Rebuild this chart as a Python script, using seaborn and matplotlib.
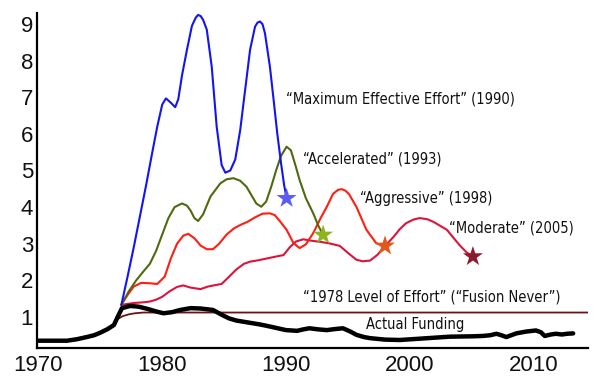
import numpy as np
import pandas as pd
import seaborn as sns
import matplotlib.pyplot as plt

# ---- data (year, relative funding) ----
mee_years = [1976.7, 1977.2, 1977.7, 1978.2, 1978.7, 1979.2, 1979.6, 1980.0, 1980.3, 1980.7,
             1981.05, 1981.3, 1981.6, 1982.0, 1982.4, 1982.7, 1982.9, 1983.1, 1983.3, 1983.6,
             1984.0, 1984.4, 1984.8, 1985.1, 1985.5, 1985.9, 1986.3, 1986.6, 1987.1, 1987.5,
             1987.7, 1987.9, 1988.1, 1988.3, 1988.7, 1989.0, 1989.3, 1989.6, 1989.85, 1990.05]
mee_values = [1.33, 2.1, 2.9, 3.75, 4.6, 5.5, 6.2, 6.8, 6.97, 6.85,
              6.73, 6.95, 7.6, 8.3, 8.95, 9.17, 9.25, 9.22, 9.12, 8.85,
              7.84, 6.2, 5.15, 4.94, 5.0, 5.3, 6.1, 6.93, 8.3, 8.93,
              9.04, 9.07, 9.0, 8.75, 7.84, 6.93, 6.0, 5.2, 4.6, 4.24]

acc_years = [1976.7, 1977.3, 1977.9, 1978.5, 1979.0, 1979.5, 1980.0, 1980.5, 1981.0, 1981.6,
             1982.0, 1982.3, 1982.6, 1982.9, 1983.3, 1983.9, 1984.7, 1985.2, 1985.75, 1986.3,
             1986.8, 1987.6, 1988.0, 1988.4, 1988.8, 1989.2, 1989.6, 1990.05, 1990.4, 1990.8,
             1991.1, 1991.6, 1992.2, 1992.6, 1993.0]
acc_values = [1.33, 1.7, 2.0, 2.25, 2.45, 2.8, 3.25, 3.7, 4.0, 4.1,
              4.04, 3.9, 3.7, 3.62, 3.8, 4.29, 4.65, 4.76, 4.79, 4.72,
              4.56, 4.1, 4.01, 4.15, 4.55, 5.0, 5.4, 5.65, 5.55, 5.1,
              4.74, 4.25, 3.83, 3.5, 3.24]

agg_years = [1976.7, 1977.2, 1977.7, 1978.3, 1979.0, 1979.6, 1980.2, 1980.7, 1981.2, 1981.7,
             1982.1, 1982.6, 1983.1, 1983.6, 1984.1, 1984.6, 1985.2, 1985.8, 1986.3, 1986.9,
             1987.5, 1988.1, 1988.7, 1989.1, 1989.5, 1990.05, 1990.6, 1991.1, 1991.6, 1992.2,
             1992.8, 1993.3, 1993.8, 1994.2, 1994.5, 1994.8, 1995.1, 1995.7, 1996.5, 1997.3,
             1998.0]
agg_values = [1.33, 1.6, 1.83, 1.93, 1.92, 1.9, 2.1, 2.6, 3.0, 3.22,
              3.27, 3.15, 2.95, 2.85, 2.85, 3.0, 3.25, 3.42, 3.51, 3.6,
              3.72, 3.82, 3.83, 3.78, 3.62, 3.38, 3.02, 2.88, 2.98, 3.29,
              3.7, 4.01, 4.36, 4.47, 4.49, 4.45, 4.35, 4.0, 3.38, 3.01,
              2.94]

mod_years = [1976.7, 1977.7, 1978.5, 1979.0, 1979.5, 1980.0, 1980.6, 1981.2, 1981.7, 1982.3,
             1983.1, 1983.7, 1984.3, 1984.8, 1985.4, 1986.0, 1986.6, 1987.1, 1987.8, 1988.5,
             1989.2, 1989.8, 1990.3, 1990.8, 1991.4, 1992.1, 1992.8, 1993.5, 1994.35, 1995.0,
             1995.7, 1996.2, 1996.8, 1997.4, 1998.0, 1998.7, 1999.2, 1999.7, 2000.3, 2000.8,
             2001.4, 2001.9, 2003.0, 2004.0, 2004.6, 2005.1]
mod_values = [1.33, 1.38, 1.4, 1.42, 1.47, 1.55, 1.7, 1.82, 1.86, 1.8,
              1.76, 1.83, 1.87, 1.9, 2.1, 2.3, 2.45, 2.51, 2.55, 2.6,
              2.65, 2.69, 2.9, 3.06, 3.12, 3.08, 3.05, 3.01, 2.94, 2.75,
              2.56, 2.52, 2.54, 2.7, 2.94, 3.19, 3.4, 3.56, 3.66, 3.7,
              3.67, 3.6, 3.38, 2.97, 2.76, 2.65]

lvl_years = [1976.0, 1976.3, 1976.8, 1977.3, 1977.8, 1978.5, 2014.4]
lvl_values = [0.76, 0.92, 1.02, 1.07, 1.1, 1.12, 1.12]

act_years = [1969.9, 1972.3, 1973.1, 1973.9, 1974.5, 1975.0, 1975.6, 1976.1, 1976.4, 1976.75,
             1977.4, 1978.1, 1978.8, 1979.5, 1980.1, 1980.8, 1981.45, 1982.3, 1983.1, 1984.1,
             1984.8, 1985.4, 1986.0, 1986.9, 1987.8, 1988.4, 1989.2, 1990.0, 1990.9, 1991.4,
             1991.9, 1992.6, 1993.3, 1994.0, 1994.6, 1995.2, 1995.7, 1996.3, 1996.8, 1998.0,
             1999.2, 2001.0, 2003.2, 2005.0, 2005.9, 2006.5, 2007.0, 2007.4, 2007.8, 2008.2,
             2008.6, 2009.4, 2010.2, 2010.6, 2010.9, 2011.4, 2011.8, 2012.3, 2012.7, 2013.2]
act_values = [0.35, 0.35, 0.39, 0.45, 0.5, 0.57, 0.67, 0.78, 1.0, 1.24,
              1.3, 1.28, 1.22, 1.15, 1.1, 1.13, 1.19, 1.24, 1.23, 1.19,
              1.06, 0.96, 0.9, 0.85, 0.8, 0.76, 0.7, 0.64, 0.62, 0.66,
              0.69, 0.66, 0.64, 0.67, 0.69, 0.6, 0.51, 0.45, 0.42, 0.38,
              0.37, 0.41, 0.46, 0.47, 0.48, 0.5, 0.54, 0.5, 0.45, 0.5,
              0.55, 0.6, 0.63, 0.58, 0.48, 0.52, 0.54, 0.52, 0.54, 0.55]

star_years = [1990.05, 1993.0, 1998.0, 2005.1]
star_values = [4.24, 3.24, 2.94, 2.65]
star_names = ['mee', 'acc', 'agg', 'mod']

x_ticks = [1970, 1980, 1990, 2000, 2010]
y_ticks = [1, 2, 3, 4, 5, 6, 7, 8, 9]

sns.set_style('white')
plt.rcParams['font.family'] = ['Liberation Sans', 'DejaVu Sans']

fig, ax = plt.subplots(figsize=(6, 3.85), dpi=100)
fig.subplots_adjust(left=0.062, right=0.98, bottom=0.096, top=0.966)

sns.lineplot(x=lvl_years, y=lvl_values, color='#6b1214', linewidth=1.3, ax=ax)
sns.lineplot(x=mod_years, y=mod_values, color='#dc143c', linewidth=1.5, ax=ax)
sns.lineplot(x=agg_years, y=agg_values, color='#ff1e12', linewidth=1.5, ax=ax)
sns.lineplot(x=acc_years, y=acc_values, color='#4e6a10', linewidth=1.5, ax=ax)
sns.lineplot(x=mee_years, y=mee_values, color='#1414f0', linewidth=1.5, ax=ax)
sns.lineplot(x=act_years, y=act_values, color='black', linewidth=3.2, ax=ax)

stars = pd.DataFrame({'year': star_years, 'value': star_values, 'name': star_names})
sns.scatterplot(data=stars, x='year', y='value', hue='name',
                palette={'mee': '#5a5cf2', 'acc': '#8cb51e', 'agg': '#e0581c', 'mod': '#8b1a2e'},
                marker='*', s=230, linewidth=0, legend=False, zorder=5, ax=ax)

# annotations
tkw = dict(family='DejaVu Sans', fontstretch='condensed', fontsize=10.5,
           va='center', ha='left', color='#111111')
ax.text(1990.0, 6.96, '\u201cMaximum Effective Effort\u201d (1990)', **tkw)
ax.text(1991.35, 5.31, '\u201cAccelerated\u201d (1993)', **tkw)
ax.text(1996.0, 4.24, '\u201cAggressive\u201d (1998)', **tkw)
ax.text(2003.2, 3.44, '\u201cModerate\u201d (2005)', **tkw)
ax.text(1991.35, 1.55, '\u201c1978 Level of Effort\u201d (\u201cFusion Never\u201d)', **tkw)
ax.text(1996.45, 0.78, 'Actual Funding', **tkw)

ax.set_xlim(1969.9, 2014.4)
ax.set_ylim(0.15, 9.3)
ax.set_xticks(x_ticks)
ax.set_yticks(y_ticks)
ax.tick_params(axis='both', length=0, labelsize=16, colors='#111111')
ax.tick_params(axis='x', pad=5)
ax.tick_params(axis='y', pad=3)
ax.set_xlabel('')
ax.set_ylabel('')
sns.despine(ax=ax)
for side in ['left', 'bottom']:
    ax.spines[side].set_color('black')
    ax.spines[side].set_linewidth(1.6)

fig.savefig('out.png', dpi=100)
